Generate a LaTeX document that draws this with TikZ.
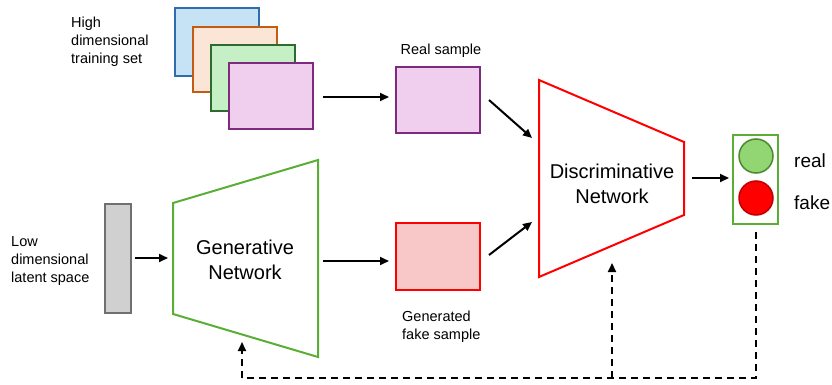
\documentclass[tikz,border=0pt]{standalone}
\usepackage{fontspec}
\setmainfont{Liberation Sans}
\usetikzlibrary{arrows.meta}
\definecolor{bluebd}{HTML}{2F6EAB}\definecolor{bluefl}{HTML}{C6E2F5}
\definecolor{orbd}{HTML}{C55A11}\definecolor{orfl}{HTML}{FBE5D6}
\definecolor{grbd}{HTML}{2D6B2E}\definecolor{grfl}{HTML}{C5EFC5}
\definecolor{pubd}{HTML}{7E2A7E}\definecolor{pufl}{HTML}{F0CFEE}
\definecolor{rdbd}{HTML}{FF0000}\definecolor{rdfl}{HTML}{F8C8C8}
\definecolor{netgr}{HTML}{5AAE35}
\definecolor{ltgr}{HTML}{92D573}\definecolor{ltgrbd}{HTML}{4A8A2E}
\definecolor{ltrdbd}{HTML}{C00000}
\definecolor{latfl}{HTML}{D0D0D0}\definecolor{latbd}{HTML}{707070}
\begin{document}
\begin{tikzpicture}[x=1pt,y=-1pt,
  smalltxt/.style={font=\fontsize{14.5}{18}\selectfont,inner sep=0pt,align=left},
  bigtxt/.style={font=\fontsize{20}{25}\selectfont,inner sep=0pt,align=center},
  card/.style={line width=2pt},
  arr/.style={line width=2pt,-{Triangle[length=9pt,width=8pt]}},
  fb/.style={line width=2pt,dash pattern=on 7pt off 5pt},
  fbarr/.style={line width=2pt,dash pattern=on 7pt off 5pt,-{Triangle[length=9pt,width=8pt]}}]
\useasboundingbox (0,0) rectangle (832,385);
% training set stack
\draw[card,draw=bluebd,fill=bluefl] (175,8) rectangle (259,76);
\draw[card,draw=orbd,fill=orfl] (193,27) rectangle (277,92);
\draw[card,draw=grbd,fill=grfl] (211,45) rectangle (295,111);
\node[card,draw=pubd,fill=pufl,minimum width=84pt,minimum height=66pt,inner sep=0pt] (train) at (271,96) {};
\node[smalltxt,anchor=west] (traintxt) at (71,42) {High\\dimensional\\training set};
% real sample
\node[card,draw=pubd,fill=pufl,minimum width=84pt,minimum height=66pt,inner sep=0pt] (real) at (438,100) {};
\node[smalltxt] (realtxt) at (441,51) {Real sample};
% fake sample
\node[card,draw=rdbd,fill=rdfl,minimum width=84pt,minimum height=67pt,inner sep=0pt] (fake) at (438,256.5) {};
\node[smalltxt,anchor=west] (faketxt) at (402,327) {Generated\\fake sample};
% latent
\node[line width=2pt,draw=latbd,fill=latfl,minimum width=26pt,minimum height=109pt,inner sep=0pt] (lat) at (118,258.5) {};
\node[smalltxt,anchor=west] (lattxt) at (11,261) {Low\\dimensional\\latent space};
% generator
\draw[line width=2pt,draw=netgr] (173,203) -- (318,160) -- (318,357) -- (173,314) -- cycle;
\node[bigtxt] (gen) at (245,259.5) {Generative\\Network};
% discriminator
\draw[line width=2pt,draw=rdbd] (539,80) -- (684,142) -- (684,215) -- (539,277) -- cycle;
\node[bigtxt] (disc) at (612,184) {Discriminative\\Network};
% traffic light
\node[line width=2pt,draw=netgr,minimum width=45pt,minimum height=89pt,inner sep=0pt] (light) at (755.5,179.5) {};
\node[circle,line width=1.5pt,draw=ltgrbd,fill=ltgr,minimum size=34pt,inner sep=0pt] (green) at (756,156) {};
\node[circle,line width=1.5pt,draw=ltrdbd,fill=red,minimum size=34pt,inner sep=0pt] (redc) at (756,198) {};
\node[font=\fontsize{19}{23}\selectfont,inner sep=0pt,anchor=west] (realw) at (794,161) {real};
\node[font=\fontsize{19}{23}\selectfont,inner sep=0pt,anchor=west] (fakew) at (794,203) {fake};
% coordinates for arrows
\coordinate (lout) at (135,258);
\coordinate (gin) at (168,258);
\coordinate (gout) at (323,261);
\coordinate (fin) at (389,261);
\coordinate (trout) at (323,97);
\coordinate (rin) at (389,97);
\coordinate (d1s) at (489,100);
\coordinate (d1e) at (532,138);
\coordinate (d2s) at (489,255);
\coordinate (d2e) at (532,222);
\coordinate (dout) at (692,178);
\coordinate (lin) at (729,178);
\coordinate (fbs) at (756,232);
\coordinate (fbc) at (756,378);
\coordinate (fbl) at (242,378);
\coordinate (fbg) at (242,342);
\coordinate (fbm) at (612,378);
\coordinate (fbd) at (612,263);
% arrows
\draw[arr] (trout) -- (rin);
\draw[arr] (lout) -- (gin);
\draw[arr] (gout) -- (fin);
\draw[arr] (d1s) -- (d1e);
\draw[arr] (d2s) -- (d2e);
\draw[arr] (dout) -- (lin);
% feedback
\draw[fb] (fbs) -- (fbc) -- (fbl);
\draw[fbarr] (fbl) -- (fbg);
\draw[fbarr] (fbm) -- (fbd);
\end{tikzpicture}
\end{document}
